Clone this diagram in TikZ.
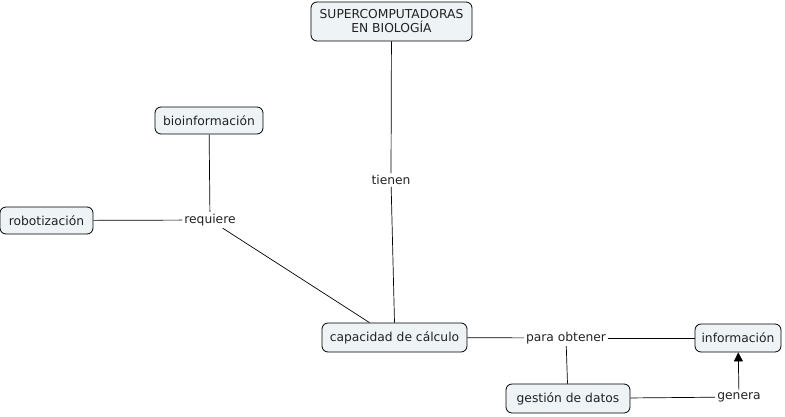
\documentclass[tikz,border=0pt]{standalone}
\usepackage{fontspec}
\setmainfont{DejaVu Sans}
\usetikzlibrary{arrows.meta,calc}
\definecolor{boxfill}{HTML}{EEF3F6}
\definecolor{txt}{HTML}{222222}
\tikzset{
  concept/.style={draw=black, fill=boxfill, rounded corners=6pt, line width=0.8pt, text=txt,
    font=\fontsize{12.3}{14}\selectfont, inner xsep=6pt, inner ysep=0pt, minimum height=28pt, align=center},
  linkword/.style={fill=white, inner sep=2pt, text=txt, font=\fontsize{12.3}{14}\selectfont},
  conn/.style={draw=black, line width=0.7pt},
  arr/.style={conn, -{Triangle[length=9pt,width=9pt]}}
}
\begin{document}
\begin{tikzpicture}[x=1pt,y=-1pt]
\useasboundingbox (0,0) rectangle (785,416);
\node[concept, minimum width=161pt, minimum height=39pt] (super) at (391.5,21.5) {SUPERCOMPUTADORAS\\EN BIOLOGÍA};
\node[concept, minimum width=108pt, minimum height=27pt] (bio) at (209,120.5) {bioinformación};
\node[concept, minimum width=93pt, minimum height=27pt] (robot) at (46.5,220.5) {robotización};
\node[concept, minimum width=145pt, minimum height=29pt] (cap) at (394.5,337.5) {capacidad de cálculo};
\node[concept, minimum width=86pt, minimum height=28pt] (info) at (738,338) {información};
\node[concept, minimum width=124pt, minimum height=29pt] (gest) at (568,398.5) {gestión de datos};
\node[linkword] (tienen) at (391,180) {tienen};
\node[linkword] (req) at (210,220) {requiere};
\node[linkword] (para) at (566,338) {para obtener};
\node[linkword] (gen) at (739,397) {genera};
\coordinate (capin) at ($(cap.north)+(-25,0)$);
\draw[conn] (super) -- (tienen);
\draw[conn] (tienen) -- (cap.north);
\draw[conn] (bio) -- (req);
\draw[conn] (robot) -- (req);
\draw[conn] (req) -- (capin);
\draw[conn] (cap) -- (para);
\draw[conn] (para) -- (info);
\draw[conn] (gest) -- (para);
\draw[conn] (gest) -- (gen);
\draw[arr] (gen) -- (info);
\end{tikzpicture}
\end{document}
